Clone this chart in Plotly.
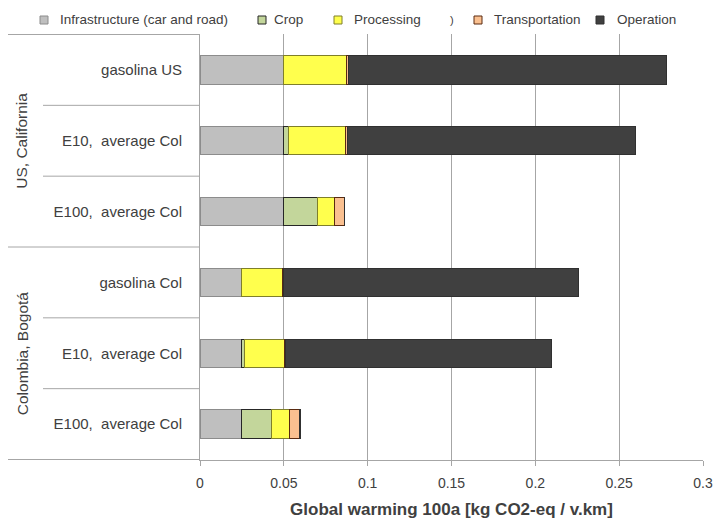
import plotly.graph_objects as go

# Scenario rows (top to bottom) and their regional groups
groups = ["US, California"] * 3 + ["Colombia, Bogotá"] * 3
labels = ["gasolina US", "E10,\u00a0 average Col", "E100,\u00a0 average Col",
          "gasolina Col", "E10,\u00a0 average Col", "E100,\u00a0 average Col"]
keys = [f"{g} / {lab}" for g, lab in zip(groups, labels)]

# Global warming contributions, kg CO2-eq per vehicle-km
infrastructure = [0.050, 0.050, 0.050, 0.025, 0.025, 0.025]
crop = [0.000, 0.003, 0.020, 0.000, 0.0016, 0.0176]
processing = [0.0373, 0.034, 0.010, 0.0243, 0.0236, 0.0106]
transportation = [0.001, 0.001, 0.0061, 0.0005, 0.0005, 0.006]
operation = [0.1897, 0.1715, 0.000, 0.176, 0.159, 0.0005]

x_ticks = [0, 0.05, 0.1, 0.15, 0.2, 0.25, 0.3]

series = [
    ("Infrastructure (car and road)", infrastructure, "#bfbfbf", "#8c8c8c"),
    ("Crop", crop, "#c3d69b", "#262626"),
    ("Processing", processing, "#ffff4d", "#7f7f2a"),
    ("Transportation", transportation, "#fac090", "#5a2a10"),
    ("Operation", operation, "#404040", "#303030"),
]

W, H = 714, 520
L, R, T, B = 200, 11, 34, 60
PW, PH = W - L - R, H - T - B


def px_x(px):
    return (px - L) / PW


def px_y(py):
    return (H - B - py) / PH


fig = go.Figure()
for name, vals, color, edge in series:
    fig.add_trace(go.Bar(
        y=keys, x=vals, orientation="h", name=name,
        marker=dict(color=color, line=dict(color=edge, width=1)),
        showlegend=False,
    ))

grey = "#a6a6a6"
text_col = "#404040"
font_family = "Liberation Sans, Arial, sans-serif"

shapes = []
# row dividers in the label column
for idx, x_start in [(-0.5, 8), (0.5, 43), (1.5, 43), (2.5, 8), (3.5, 43), (4.5, 43), (5.5, 8)]:
    shapes.append(dict(type="line", xref="paper", yref="y",
                       x0=px_x(x_start), x1=0, y0=idx, y1=idx,
                       line=dict(color=grey, width=1)))

annotations = []
# group labels, rotated
for gi in (1, 4):
    annotations.append(dict(text=groups[gi], xref="paper", yref="y", x=px_x(22), y=keys[gi],
                            xanchor="center", yanchor="middle",
                            textangle=-90, showarrow=False,
                            font=dict(size=15.5, color=text_col, family=font_family)))

# legend row drawn across the top
legend_pos = [(40, 58), (258, 272), (334, 352), (474, 492), (596, 615)]
ly = 20
for (sq_x, tx_x), (name, _, color, edge) in zip(legend_pos, series):
    shapes.append(dict(type="rect", xref="paper", yref="paper",
                       x0=px_x(sq_x), x1=px_x(sq_x + 8),
                       y0=px_y(ly + 4), y1=px_y(ly - 4),
                       fillcolor=color, line=dict(color=edge, width=1)))
    annotations.append(dict(text=name, xref="paper", yref="paper",
                            x=px_x(tx_x), y=px_y(ly), xanchor="left", yanchor="middle",
                            showarrow=False,
                            font=dict(size=13.5, color=text_col, family=font_family)))
annotations.append(dict(text=")", xref="paper", yref="paper",
                        x=px_x(452), y=px_y(ly), xanchor="center", yanchor="middle",
                        showarrow=False,
                        font=dict(size=11, color=text_col, family=font_family)))

fig.update_layout(
    width=W, height=H,
    margin=dict(l=L, r=R, t=T, b=B, autoexpand=False),
    barmode="stack", bargap=0.6,
    paper_bgcolor="white", plot_bgcolor="white",
    font=dict(family=font_family, color=text_col),
    shapes=shapes, annotations=annotations,
    xaxis=dict(
        range=[0, 0.3], tickvals=x_ticks, ticktext=[f"{v:g}" for v in x_ticks],
        showgrid=True, gridcolor=grey, gridwidth=1,
        showline=True, linecolor=grey, linewidth=1,
        ticks="outside", ticklen=5, tickcolor=grey,
        zeroline=False, ticklabelstandoff=5, automargin=False,
        tickfont=dict(size=14, color=text_col),
        title=dict(text="<b>Global warming 100a [kg CO2-eq / v.km]</b>",
                   font=dict(size=17, color=text_col), standoff=13),
    ),
    yaxis=dict(
        categoryorder="array", categoryarray=keys, autorange="reversed",
        tickmode="array", tickvals=keys, ticktext=labels,
        showgrid=False, showline=True, linecolor=grey, linewidth=1,
        ticks="", ticklabelstandoff=14, zeroline=False, automargin=False,
        tickfont=dict(size=15, color=text_col),
    ),
)

fig.write_html("out.html")
